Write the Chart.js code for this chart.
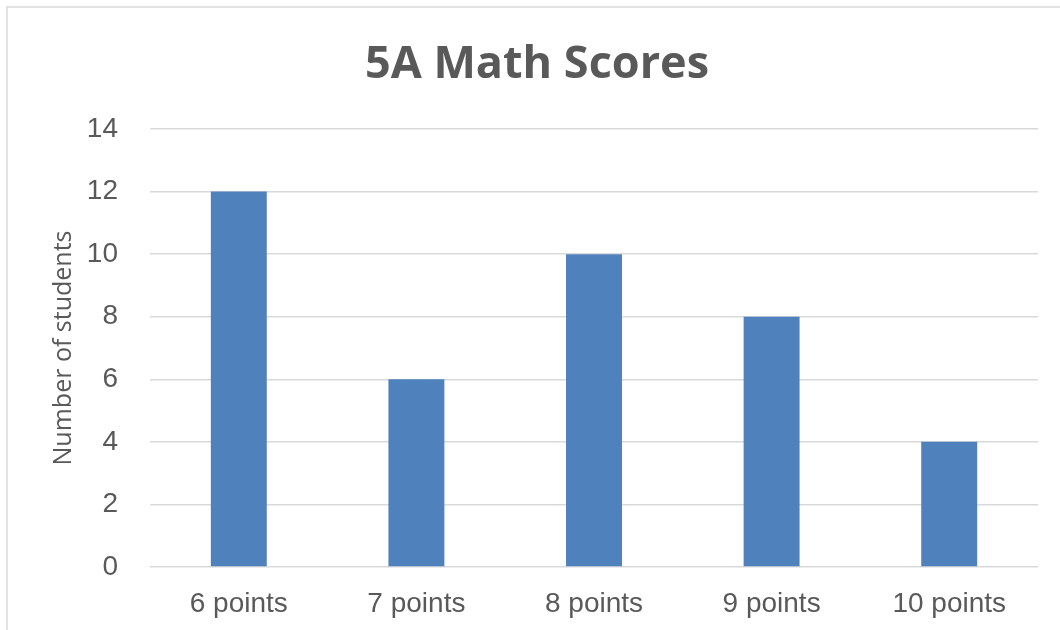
<!DOCTYPE html>
<html>
<head>
<meta charset="utf-8">
<script src="https://cdn.jsdelivr.net/npm/chart.js@4"></script>
<style>
  html, body { margin: 0; padding: 0; background: #fff; }
  #wrap { width: 1060px; height: 630px; position: relative; }
</style>
</head>
<body>
<div id="wrap"><canvas id="scoresChart"></canvas></div>
<script>
// Data
const categories = ['6 points', '7 points', '8 points', '9 points', '10 points'];
const studentCounts = [12, 6, 10, 8, 4];
const yTicks = [0, 2, 4, 6, 8, 10, 12, 14];

const textGrey = '#595959';
const gridGrey = '#d9d9d9';

// light frame around the whole chart (cut off at right and bottom)
const framePlugin = {
    id: 'frame',
    beforeDraw(chart) {
        const ctx = chart.ctx;
        ctx.save();
        ctx.strokeStyle = gridGrey;
        ctx.lineWidth = 1.5;
        ctx.strokeRect(7, 7, chart.width + 20, chart.height + 20);
        ctx.restore();
    }
};

new Chart(document.getElementById('scoresChart'), {
    type: 'bar',
    data: {
        labels: categories,
        datasets: [{
            label: 'Students',
            data: studentCounts,
            backgroundColor: '#4f81bd',
            borderWidth: 0,
            categoryPercentage: 1,
            barPercentage: 0.315
        }]
    },
    options: {
        responsive: true,
        maintainAspectRatio: false,
        animation: false,
        layout: {
            padding: { left: 36, right: 22, top: 0, bottom: 0 }
        },
        plugins: {
            legend: { display: false },
            tooltip: { enabled: false },
            title: {
                display: true,
                text: '5A Math Scores',
                color: textGrey,
                font: { family: 'Open Sans', size: 45, weight: 'bold' },
                padding: { top: 38, bottom: 37 }
            }
        },
        scales: {
            x: {
                grid: { display: false, drawTicks: false },
                border: { display: false },
                ticks: {
                    color: textGrey,
                    padding: 20,
                    font: { family: 'Liberation Sans', size: 28 }
                },
                afterFit(scale) { scale.height = 63; }
            },
            y: {
                min: 0,
                max: 14,
                afterBuildTicks(scale) {
                    scale.ticks = yTicks.map(v => ({ value: v }));
                },
                grid: { color: gridGrey, lineWidth: 1.5, drawTicks: false },
                border: { display: false },
                ticks: {
                    color: textGrey,
                    padding: 32,
                    font: { family: 'Liberation Sans', size: 28 }
                },
                title: {
                    display: true,
                    text: 'Number of students',
                    color: textGrey,
                    font: { family: 'Open Sans', size: 25 },
                    padding: { top: 13, bottom: 0 }
                },
                afterFit(scale) { scale.width = 114; }
            }
        }
    },
    plugins: [framePlugin]
});
</script>
</body>
</html>
